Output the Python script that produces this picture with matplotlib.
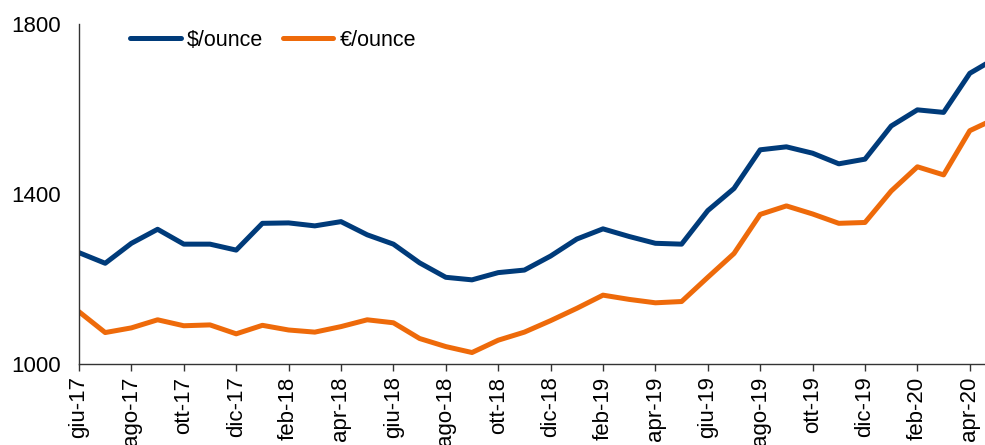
import matplotlib
matplotlib.use("Agg")
import matplotlib.pyplot as plt

plt.rcParams['font.family'] = ['Liberation Sans', 'DejaVu Sans']

# mesi da giu-17 a mag-20
mesi = ["gen", "feb", "mar", "apr", "mag", "giu", "lug", "ago", "set", "ott", "nov", "dic"]
labels = []
m, a = 5, 17
for i in range(36):
    labels.append("{0}-{1}".format(mesi[m], a))
    m += 1
    if m == 12:
        m, a = 0, a + 1

usd = [1262, 1237, 1284, 1317, 1282, 1282, 1268, 1331, 1332, 1325, 1335, 1304,
       1282, 1238, 1204, 1198, 1215, 1221, 1254, 1294, 1318, 1300, 1284, 1282,
       1361, 1413, 1504, 1511, 1496, 1471, 1482, 1560, 1598, 1592, 1684, 1720]
eur = [1123, 1074, 1085, 1104, 1090, 1092, 1071, 1091, 1080, 1075, 1088, 1104,
       1097, 1060, 1041, 1027, 1056, 1075, 1102, 1131, 1162, 1152, 1144, 1147,
       1204, 1260, 1352, 1372, 1353, 1331, 1333, 1407, 1464, 1445, 1549, 1578]

blue = "#003B7A"
orange = "#EE6A0A"

fig = plt.figure(figsize=(9.85, 4.45), dpi=100)
ax = fig.add_axes([79 / 985, 81 / 445, 1 - 79 / 985, 340 / 445])

x = list(range(len(usd)))
ax.plot(x, usd, color=blue, lw=3.6, label="$/ounce", solid_capstyle="round")
ax.plot(x, eur, color=orange, lw=3.6, label="€/ounce", solid_capstyle="round")

ax.set_ylim(1000, 1800)
ax.set_yticks([1000, 1400, 1800])
ax.set_xlim(0, 906 / 26.2)
ax.set_xticks(x[::2])
ax.set_xticklabels(labels[::2], rotation=90, va="top", ha="center")

ax.tick_params(axis="y", length=0, pad=13, labelsize=16)
ax.tick_params(axis="x", length=5, width=1, direction="out", pad=4, labelsize=16, color="#333333")

for s in ["top", "right"]:
    ax.spines[s].set_visible(False)
for s in ["left", "bottom"]:
    ax.spines[s].set_color("#333333")
    ax.spines[s].set_linewidth(1)

ax.legend(loc="upper left", bbox_to_anchor=(0.035, 1.04), ncol=2, frameon=False,
          fontsize=15.5, handlelength=2.35, handletextpad=0.3, columnspacing=0.9)

fig.savefig("out.png", dpi=100)
